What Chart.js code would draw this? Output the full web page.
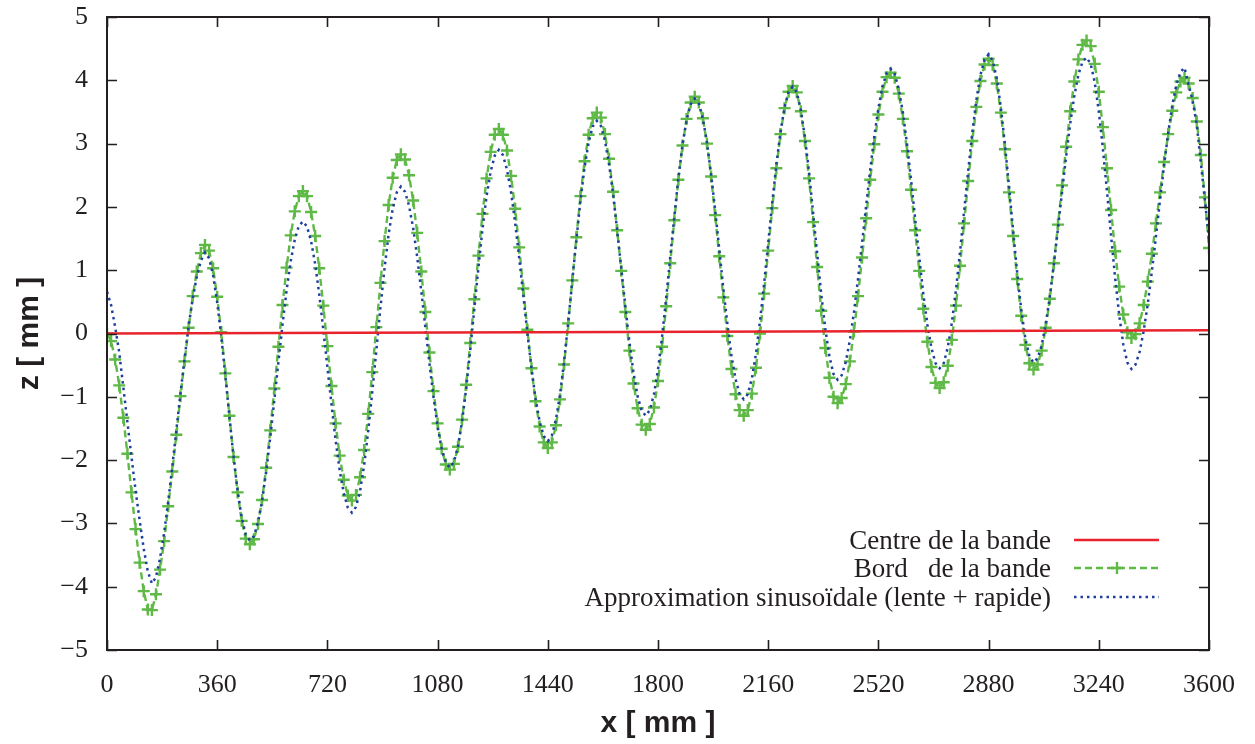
<!DOCTYPE html>
<html>
<head>
<meta charset="utf-8">
<script src="https://cdn.jsdelivr.net/npm/chart.js@4"></script>
<style>
  html, body { margin: 0; padding: 0; background: #fff; }
</style>
</head>
<body>
<canvas id="chart" width="1255" height="744"></canvas>
<script>
// sampling grid of the measured profiles (mm)
const xStep = 3600 / 270;

// z [mm] along the band edge
const bordValues = [
  0.0, -0.12, -0.41, -0.82, -1.33, -1.9, -2.51, -3.09, -3.62, -4.07,
  -4.36, -4.37, -4.12, -3.73, -3.28, -2.73, -2.18, -1.6, -0.99, -0.44,
  0.09, 0.59, 0.98, 1.27, 1.4, 1.31, 1.03, 0.58, 0.02, -0.63,
  -1.30, -1.95, -2.51, -2.96, -3.24, -3.33, -3.25, -3.01, -2.63, -2.12,
  -1.53, -0.87, -0.21, 0.45, 1.04, 1.55, 1.93, 2.17, 2.25, 2.17,
  1.92, 1.54, 1.03, 0.44, -0.20, -0.83, -1.42, -1.93, -2.31, -2.56,
  -2.64, -2.55, -2.27, -1.84, -1.27, -0.61, 0.10, 0.80, 1.46, 2.03,
  2.46, 2.74, 2.83, 2.75, 2.50, 2.10, 1.59, 0.98, 0.34, -0.30,
  -0.91, -1.42, -1.82, -2.07, -2.15, -2.06, -1.79, -1.36, -0.81, -0.15,
  0.54, 1.23, 1.89, 2.45, 2.87, 3.14, 3.23, 3.14, 2.89, 2.49,
  1.97, 1.36, 0.71, 0.06, -0.55, -1.07, -1.47, -1.72, -1.81, -1.72,
  -1.45, -1.04, -0.49, 0.16, 0.84, 1.52, 2.17, 2.72, 3.14, 3.40,
  3.49, 3.41, 3.15, 2.76, 2.24, 1.63, 0.99, 0.34, -0.27, -0.79,
  -1.18, -1.44, -1.52, -1.43, -1.17, -0.75, -0.21, 0.43, 1.11, 1.79,
  2.43, 2.97, 3.39, 3.65, 3.74, 3.65, 3.40, 3.00, 2.48, 1.87,
  1.22, 0.57, -0.04, -0.56, -0.96, -1.21, -1.30, -1.21, -0.95, -0.54,
  0.00, 0.63, 1.31, 1.98, 2.61, 3.15, 3.56, 3.82, 3.91, 3.81,
  3.51, 3.04, 2.45, 1.76, 1.05, 0.36, -0.23, -0.70, -1.00, -1.10,
  -1.02, -0.80, -0.44, 0.03, 0.59, 1.20, 1.82, 2.43, 2.99, 3.46,
  3.82, 4.05, 4.12, 4.04, 3.79, 3.39, 2.88, 2.27, 1.63, 0.99,
  0.39, -0.13, -0.53, -0.78, -0.86, -0.77, -0.51, -0.10, 0.44, 1.07,
  1.74, 2.41, 3.04, 3.58, 3.99, 4.25, 4.34, 4.24, 3.95, 3.49,
  2.91, 2.23, 1.54, 0.86, 0.28, -0.18, -0.47, -0.57, -0.49, -0.27,
  0.09, 0.55, 1.11, 1.72, 2.34, 2.95, 3.51, 3.98, 4.33, 4.56,
  4.63, 4.54, 4.26, 3.82, 3.26, 2.61, 1.95, 1.30, 0.74, 0.30,
  0.02, -0.07, -0.01, 0.16, 0.45, 0.82, 1.26, 1.74, 2.23, 2.71,
  3.15, 3.52, 3.81, 3.98, 4.04, 3.95, 3.72, 3.35, 2.82, 2.15,
  1.35, 0.5
];

// z [mm] of the sinusoidal fit (slow + fast)
const approxValues = [
  0.66, 0.45, 0.10, -0.30, -0.85, -1.40, -1.95, -2.48, -2.95, -3.40,
  -3.76, -3.95, -3.85, -3.55, -3.15, -2.65, -2.10, -1.52, -0.95, -0.40,
  0.12, 0.55, 0.90, 1.15, 1.28, 1.19, 0.92, 0.49, -0.05, -0.67,
  -1.32, -1.94, -2.48, -2.91, -3.18, -3.27, -3.20, -2.98, -2.64, -2.18,
  -1.64, -1.05, -0.45, 0.14, 0.68, 1.14, 1.48, 1.70, 1.77, 1.69,
  1.46, 1.10, 0.62, 0.06, -0.53, -1.12, -1.68, -2.16, -2.52, -2.75,
  -2.83, -2.74, -2.49, -2.08, -1.54, -0.92, -0.26, 0.41, 1.03, 1.57,
  1.97, 2.23, 2.32, 2.24, 2.02, 1.67, 1.21, 0.67, 0.10, -0.47,
  -1.01, -1.47, -1.82, -2.04, -2.12, -2.03, -1.78, -1.39, -0.87, -0.26,
  0.39, 1.04, 1.65, 2.17, 2.56, 2.81, 2.90, 2.82, 2.59, 2.23,
  1.75, 1.19, 0.60, 0.01, -0.55, -1.03, -1.39, -1.62, -1.70, -1.61,
  -1.36, -0.96, -0.44, 0.18, 0.83, 1.48, 2.10, 2.62, 3.02, 3.27,
  3.36, 3.28, 3.05, 2.68, 2.20, 1.63, 1.03, 0.43, -0.14, -0.62,
  -0.99, -1.22, -1.30, -1.21, -0.96, -0.57, -0.05, 0.56, 1.21, 1.85,
  2.46, 2.98, 3.37, 3.62, 3.71, 3.63, 3.39, 3.02, 2.52, 1.95,
  1.34, 0.72, 0.15, -0.35, -0.72, -0.96, -1.04, -0.96, -0.71, -0.32,
  0.20, 0.79, 1.43, 2.07, 2.67, 3.18, 3.57, 3.82, 3.90, 3.81,
  3.53, 3.10, 2.55, 1.91, 1.26, 0.62, 0.07, -0.36, -0.64, -0.73,
  -0.66, -0.45, -0.11, 0.33, 0.86, 1.43, 2.02, 2.59, 3.12, 3.56,
  3.90, 4.11, 4.18, 4.10, 3.86, 3.49, 3.00, 2.43, 1.82, 1.21,
  0.63, 0.14, -0.23, -0.47, -0.55, -0.47, -0.22, 0.17, 0.69, 1.29,
  1.93, 2.57, 3.17, 3.69, 4.08, 4.33, 4.41, 4.31, 4.03, 3.57,
  2.99, 2.32, 1.63, 0.96, 0.38, -0.08, -0.36, -0.46, -0.39, -0.19,
  0.15, 0.58, 1.10, 1.66, 2.24, 2.80, 3.32, 3.75, 4.09, 4.29,
  4.36, 4.26, 3.97, 3.51, 2.92, 2.25, 1.55, 0.88, 0.29, -0.17,
  -0.46, -0.56, -0.49, -0.29, 0.04, 0.47, 0.98, 1.53, 2.11, 2.66,
  3.17, 3.60, 3.93, 4.13, 4.20, 3.92, 3.68, 3.30, 2.70, 2.10,
  1.50, 0.80
];

// band centre line
const centreX = [0, 3600];
const centreValues = [0, 0.05];

const seriesLabels = [
  'Centre de la bande',
  'Bord   de la bande',
  'Approximation sinusoïdale (lente + rapide)'
];

const textColor = '#231f20';

function toPoints(xs, ys) {
  return ys.map((v, i) => ({ x: xs[i], y: v }));
}
const gridX = bordValues.map((v, i) => i * xStep);

// gnuplot-like frame: box with inward ticks on all four sides
const frameTicks = {
  id: 'frameTicks',
  afterDraw(chart) {
    const { ctx, chartArea: a, scales: { x, y } } = chart;
    ctx.save();
    ctx.strokeStyle = '#231f20';
    ctx.lineWidth = 1.6;
    ctx.beginPath();
    x.ticks.forEach(t => {
      const px = Math.round(x.getPixelForValue(t.value)) + 0.5;
      ctx.moveTo(px, a.bottom); ctx.lineTo(px, a.bottom - 10);
      ctx.moveTo(px, a.top); ctx.lineTo(px, a.top + 10);
    });
    y.ticks.forEach(t => {
      const py = Math.round(y.getPixelForValue(t.value)) + 0.5;
      ctx.moveTo(a.left, py); ctx.lineTo(a.left + 10, py);
      ctx.moveTo(a.right, py); ctx.lineTo(a.right - 10, py);
    });
    ctx.stroke();
    ctx.lineWidth = 2;
    ctx.strokeRect(a.left, a.top, a.width, a.height);
    ctx.restore();
  }
};

// key in the lower right corner of the plot, text left of the sample
const cornerKey = {
  id: 'cornerKey',
  afterDraw(chart) {
    const { ctx, chartArea: a } = chart;
    const rowOffsets = [-110, -82, -53];
    ctx.save();
    chart.data.datasets.forEach((ds, i) => {
      const yy = a.bottom + rowOffsets[i];
      ctx.font = '27px "Liberation Serif"';
      ctx.textAlign = 'right';
      ctx.textBaseline = 'middle';
      ctx.fillStyle = textColor;
      ctx.fillText(ds.label, a.right - 158, yy + 2);
      ctx.strokeStyle = ds.borderColor;
      ctx.lineWidth = ds.borderWidth;
      ctx.setLineDash(ds.borderDash || []);
      ctx.beginPath();
      ctx.moveTo(a.right - 135, yy);
      ctx.lineTo(a.right - 50, yy);
      ctx.stroke();
      ctx.setLineDash([]);
      if (ds.pointRadius > 0) {
        const cx = a.right - 92, r = ds.pointRadius;
        ctx.lineWidth = ds.pointBorderWidth;
        ctx.beginPath();
        ctx.moveTo(cx - r, yy); ctx.lineTo(cx + r, yy);
        ctx.moveTo(cx, yy - r); ctx.lineTo(cx, yy + r);
        ctx.stroke();
      }
    });
    ctx.restore();
  }
};

Chart.defaults.font.family = '"Liberation Serif", "Times New Roman", serif';
Chart.defaults.color = textColor;

const ctx = document.getElementById('chart').getContext('2d');
const chart = new Chart(ctx, {
  type: 'line',
  data: {
    datasets: [{
      label: seriesLabels[0],
      data: toPoints(centreX, centreValues),
      borderColor: '#e8232b',
      borderWidth: 2.5,
      pointRadius: 0,
      order: 0
    }, {
      label: seriesLabels[1],
      data: toPoints(gridX, bordValues),
      borderColor: '#5fb946',
      borderWidth: 2.4,
      borderDash: [7, 4],
      pointStyle: 'cross',
      pointRadius: 6,
      pointBorderWidth: 2.4,
      pointBorderColor: '#5fb946',
      order: 2
    }, {
      label: seriesLabels[2],
      data: toPoints(gridX, approxValues),
      borderColor: '#1f3f9e',
      borderWidth: 2.5,
      borderDash: [2.5, 4],
      pointRadius: 0,
      order: 1
    }]
  },
  options: {
    responsive: false,
    animation: false,
    devicePixelRatio: 1,
    layout: { padding: { top: 17, right: 45, left: 0, bottom: 0 } },
    plugins: {
      legend: { display: false },
      tooltip: { enabled: false }
    },
    elements: { line: { tension: 0 } },
    scales: {
      x: {
        type: 'linear',
        min: 0,
        max: 3600,
        afterFit: s => { s.height = 94; },
        grid: { display: false, drawTicks: false },
        border: { display: false },
        ticks: {
          stepSize: 360,
          autoSkip: false,
          maxRotation: 0,
          padding: 20,
          font: { size: 26 },
          callback: v => String(v)
        },
        title: {
          display: true,
          text: 'x [ mm ]',
          color: textColor,
          font: { family: '"Liberation Sans", Arial, sans-serif', size: 30, weight: 'bold' },
          padding: { top: 0, bottom: 2 }
        }
      },
      y: {
        type: 'linear',
        min: -5,
        max: 5,
        afterFit: s => {
          s.width = 107;
          s.paddingTop = 0;
          s.paddingBottom = 0;
        },
        grid: { display: false, drawTicks: false },
        border: { display: false },
        ticks: {
          stepSize: 1,
          padding: 19,
          font: { size: 26 },
          callback: v => (v < 0 ? '\u2212' + Math.abs(v) : String(v))
        },
        title: {
          display: true,
          text: 'z [ mm ]',
          color: textColor,
          font: { family: '"Liberation Sans", Arial, sans-serif', size: 30, weight: 'bold' },
          padding: { top: 12, bottom: 0 }
        }
      }
    }
  },
  plugins: [frameTicks, cornerKey]
});
</script>
</body>
</html>
